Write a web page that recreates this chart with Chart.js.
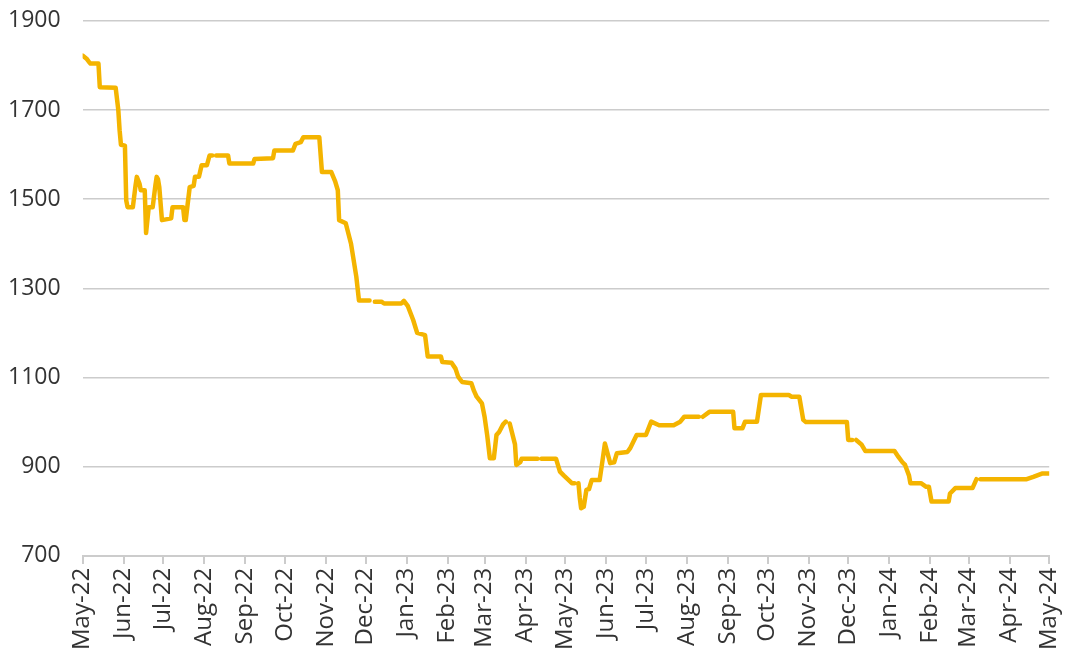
<!DOCTYPE html>
<html>
<head>
<meta charset="utf-8">
<script src="https://cdn.jsdelivr.net/npm/chart.js@4.4.1/dist/chart.umd.min.js"></script>
<style>
  html, body { margin: 0; padding: 0; background: #ffffff; overflow: hidden; }
  #wrap { width: 1075px; height: 664px; position: relative; overflow: hidden; }
  #c { position: absolute; left: -15px; top: -15px; }
</style>
</head>
<body>
<div id="wrap"><canvas id="c" width="1097" height="679"></canvas></div>
<script>
// Days since 1 May 2022 (null price = short gap in the series)
const dayIndex = [0,3,5,6,12,13,25,27,28,29,32,33,34,38,40,41,43,44,47,48,50,53,55,56,57,58,60,67,68,76,77,78,81,84,85,88,90,94,96,98,99,101,110,111,129,130,144,145,159,161,165,167,179,181,188,191,193,194,199,203,207,209,217,219,221,226,228,241,243,246,250,253,259,261,271,272,279,282,284,287,294,296,298,302,304,306,308,311,313,315,318,320,321,323,327,328,331,332,344,345,347,358,361,364,370,372,373,375,376,377,379,381,383,385,391,393,395,397,399,402,404,412,414,419,426,430,436,447,452,455,466,467,469,474,492,493,499,501,510,513,534,536,542,545,547,578,579,582,583,585,589,592,614,617,620,622,625,626,634,638,640,642,655,656,660,673,676,677,679,714,719,726,731];
const prices   = [1822,1815,1807,1804,1804,1751,1750,1700,1654,1622,1620,1497,1482,1482,1530,1550,1535,1520,1520,1424,1482,1482,1530,1550,1545,1527,1453,1457,1482,1482,1453,1453,1527,1530,1550,1550,1576,1576,1598,1598,null,1598,1598,1580,1580,1590,1592,1609,1609,1624,1628,1639,1639,1561,1561,1540,1520,1453,1446,1400,1326,1273,1273,null,1270,1270,1266,1266,1272,1260,1229,1200,1195,1147,1147,1135,1133,1120,1102,1090,1087,1070,1057,1042,1012,970,919,919,971,978,995,1001,null,997,950,904,910,918,918,null,918,918,889,880,863,863,null,863,830,807,810,848,850,870,870,910,952,930,908,910,930,933,941,971,971,1001,993,993,1001,1012,1012,null,1012,1023,1023,986,986,1001,1001,1061,1061,1057,1057,1005,1000,1000,960,960,null,960,950,935,935,922,910,904,880,863,863,855,855,822,822,840,852,852,872,null,872,872,877,885,885];

const tickLabels = ['May-22','Jun-22','Jul-22','Aug-22','Sep-22','Oct-22','Nov-22','Dec-22','Jan-23','Feb-23','Mar-23','Apr-23','May-23','Jun-23','Jul-23','Aug-23','Sep-23','Oct-23','Nov-23','Dec-23','Jan-24','Feb-24','Mar-24','Apr-24','May-24'];
const yTicks = [700, 900, 1100, 1300, 1500, 1700, 1900];

const base = Date.UTC(2022, 4, 1);
const tickDays = tickLabels.map((_, i) => Math.round((Date.UTC(2022, 4 + i, 1) - base) / 86400000));
const points = dayIndex.map((d, i) => ({ x: d, y: prices[i] }));

const GRID = '#cccccc';
const TEXT = '#333333';

new Chart(document.getElementById('c'), {
  type: 'line',
  data: {
    datasets: [{
      data: points,
      borderColor: '#F4B400',
      borderWidth: 4.5,
      borderJoinStyle: 'round',
      borderCapStyle: 'round',
      pointRadius: 0,
      tension: 0,
      spanGaps: false,
      fill: false
    }]
  },
  options: {
    responsive: false,
    animation: false,
    devicePixelRatio: 1,
    layout: { padding: { top: -7, right: 6, left: 1, bottom: 10 } },
    plugins: { legend: { display: false }, tooltip: { enabled: false } },
    scales: {
      x: {
        type: 'linear',
        min: tickDays[0],
        max: tickDays[tickDays.length - 1],
        afterBuildTicks: (axis) => { axis.ticks = tickDays.map(v => ({ value: v })); },
        ticks: {
          autoSkip: false,
          maxRotation: 90,
          minRotation: 90,
          padding: 4,
          color: TEXT,
          font: { family: 'Open Sans', size: 24 },
          callback: (v) => { const i = tickDays.indexOf(v); return i >= 0 ? tickLabels[i] : ''; }
        },
        grid: { display: true, drawOnChartArea: false, drawTicks: true, tickLength: 8, color: GRID, lineWidth: 2 },
        border: { display: true, color: GRID, width: 2 }
      },
      y: {
        min: 700,
        max: 1900,
        afterBuildTicks: (axis) => { axis.ticks = yTicks.map(v => ({ value: v })); },
        ticks: {
          padding: 22,
          color: TEXT,
          font: { family: 'Open Sans', size: 23 },
          callback: (v) => String(v)
        },
        grid: { color: GRID, lineWidth: 1.5, drawTicks: false },
        border: { display: false }
      }
    }
  }
});
</script>
</body>
</html>
